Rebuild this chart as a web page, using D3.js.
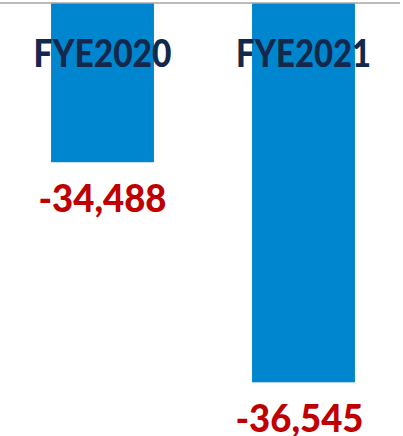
<!DOCTYPE html>
<html>
<head>
<meta charset="utf-8">
<script src="https://d3js.org/d3.v7.min.js"></script>
<style>
  body { margin: 0; background: #fff; }
  svg { display: block; }
</style>
</head>
<body>
<svg id="chart" width="403" height="436"></svg>
<script>
// data
var categories = ['FYE2020', 'FYE2021'];
var values = [-34488, -36545];
var valueLabels = ['-34,488', '-36,545'];

var width = 403, height = 436;
var svg = d3.select('#chart');

var x = d3.scaleBand()
  .domain(categories)
  .range([2, 404])
  .paddingInner(0.488)
  .paddingOuter(0.244);

// axis does not start at zero, it is cut at -33,000
var y = d3.scaleLinear()
  .domain([-33000, -37000])
  .range([3, 431]);

var rows = categories.map(function(c, i) {
  return { cat: c, value: values[i], label: valueLabels[i] };
});

svg.selectAll('rect.bar')
  .data(rows)
  .enter().append('rect')
  .attr('class', 'bar')
  .attr('x', function(d) { return x(d.cat); })
  .attr('y', y(-33000))
  .attr('width', x.bandwidth())
  .attr('height', function(d) { return y(d.value) - y(-33000); })
  .attr('fill', '#0086CE');

// top axis line
svg.append('line')
  .attr('x1', 0).attr('x2', 400)
  .attr('y1', y(-33000)).attr('y2', y(-33000))
  .attr('stroke', '#A6A6A6')
  .attr('stroke-width', 1.5);

var font = 'Lato, Roboto, sans-serif';

// category labels
svg.selectAll('text.cat')
  .data(rows)
  .enter().append('text')
  .attr('class', 'cat')
  .attr('x', function(d) { return x(d.cat) + x.bandwidth() / 2; })
  .attr('y', 66.5)
  .attr('text-anchor', 'middle')
  .attr('font-family', font)
  .attr('font-weight', 900)
  .attr('font-size', 37.5)
  .attr('textLength', function(d, i) { return i == 0 ? 138 : 135; })
  .attr('lengthAdjust', 'spacingAndGlyphs')
  .attr('fill', '#13284B')
  .text(function(d) { return d.cat; });

// value labels under the bars
svg.selectAll('text.val')
  .data(rows)
  .enter().append('text')
  .attr('class', 'val')
  .attr('x', function(d, i) { return x(d.cat) + x.bandwidth() / 2 - (i == 1 ? 4 : 0); })
  .attr('y', function(d) { return y(d.value) + 50; })
  .attr('text-anchor', 'middle')
  .attr('font-family', font)
  .attr('font-weight', 900)
  .attr('font-size', 38)
  .attr('textLength', 128)
  .attr('lengthAdjust', 'spacingAndGlyphs')
  .attr('fill', '#C00000')
  .text(function(d) { return d.label; });
</script>
</body>
</html>
